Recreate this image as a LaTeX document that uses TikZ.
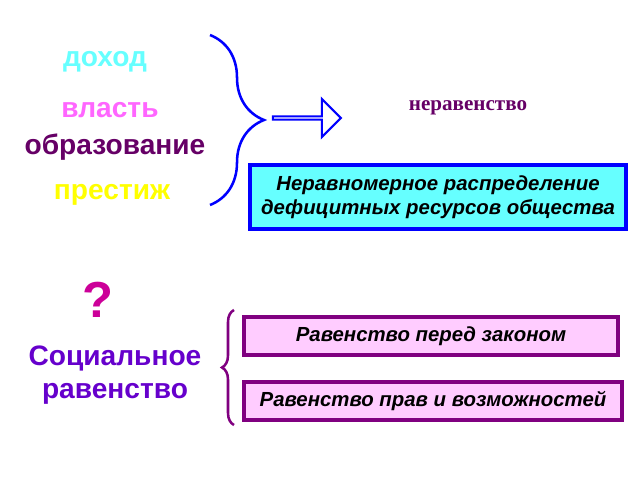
\documentclass[tikz,border=0pt]{standalone}
\usepackage{fontspec}
\setmainfont{Liberation Sans}
\newfontfamily\serifru{Liberation Serif}
\usetikzlibrary{decorations.pathreplacing,shapes.arrows}
\definecolor{cdohod}{HTML}{66FFFF}
\definecolor{cvlast}{HTML}{FF66FF}
\definecolor{cobraz}{HTML}{660066}
\definecolor{cprest}{HTML}{FFFF00}
\definecolor{cquest}{HTML}{CC0099}
\definecolor{csoc}{HTML}{6600CC}
\definecolor{cbox}{HTML}{66FFFF}
\definecolor{cpink}{HTML}{FFCCFF}
\definecolor{cpurp}{HTML}{800080}
\definecolor{cblue}{HTML}{0000FF}

\begin{document}
\begin{tikzpicture}[x=0.025cm,y=-0.025cm]
  \tikzstyle{word} = [font=\fontsize{20}{23}\selectfont\bfseries]
  \tikzstyle{bluebox} = [draw=cblue, line width=2.8pt, fill=cbox, minimum width=9.4cm, minimum height=1.6cm, inner sep=1pt, align=center, font=\fontsize{14.5}{17}\selectfont\bfseries\itshape]
  \tikzstyle{pinkbox} = [draw=cpurp, line width=2.8pt, fill=cpink, align=center, minimum height=0.95cm, inner sep=1pt, font=\fontsize{14.5}{17}\selectfont\bfseries\itshape]

  \useasboundingbox (0,0) rectangle (640,480);

  \node[word, text=cdohod] (dohod) at (105,62) {доход};
  \node[word, text=cvlast] (vlast) at (110,110) {власть};
  \node[word, text=cobraz] (obraz) at (115,147) {образование};
  \node[word, text=cprest] (prest) at (112,195) {престиж};

  \coordinate (btop) at (210,35);
  \coordinate (bbot) at (210,205);
  \draw[cblue, line width=1.8pt, decorate, decoration={brace, amplitude=1.35cm}] (btop) -- (bbot);

  \node[single arrow, draw=cblue, fill=white, line width=1.5pt, minimum height=1.7cm, minimum width=0.95cm, single arrow head extend=0.28cm, inner sep=0pt] (arr) at (306,118) {};

  \node[text=cobraz, font=\serifru\fontsize{15}{18}\selectfont\bfseries] (nerav) at (468,108) {неравенство};

  \node[bluebox] (defic) at (438,197) {Неравномерное распределение\\дефицитных ресурсов общества};

  \node[text=cquest, font=\fontsize{36}{40}\selectfont\bfseries] (quest) at (98,300) {?};
  \node[word, text=csoc, align=center] (soc) at (115,375) {Социальное\\равенство};

  \coordinate (ctop) at (234,310);
  \coordinate (cbot) at (234,425);
  \draw[cpurp, line width=1.8pt, decorate, decoration={brace, amplitude=0.3cm}] (cbot) -- (ctop);

  \node[pinkbox, minimum width=9.35cm] (law) at (431,336) {Равенство перед законом};
  \node[pinkbox, minimum width=9.45cm] (rights) at (433,401) {Равенство прав и возможностей};
\end{tikzpicture}
\end{document}
